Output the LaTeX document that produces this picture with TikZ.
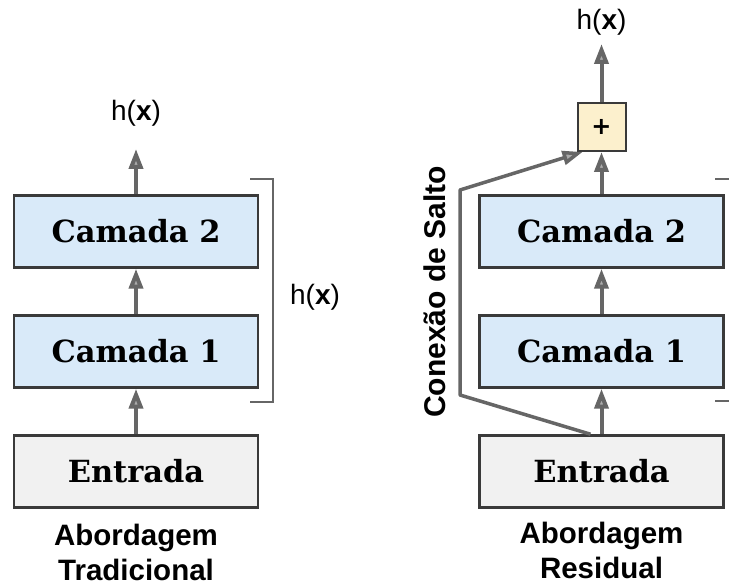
\documentclass[tikz,border=0pt]{standalone}
\usepackage{fontspec}
\setmainfont{DejaVu Serif}
\setsansfont{Liberation Sans}
\newfontfamily\plusfont{DejaVu Sans}
\usetikzlibrary{calc,arrows.meta}

\definecolor{boxline}{HTML}{3A3A3A}
\definecolor{arrowgray}{HTML}{666666}
\definecolor{layerblue}{HTML}{D9EAF9}
\definecolor{inputgray}{HTML}{F1F1F1}
\definecolor{sumyellow}{HTML}{FCF0CD}

\tikzset{
	box/.style={draw=boxline, line width=2.5pt, minimum width=244pt, minimum height=72pt, inner sep=0pt, font=\bfseries\fontsize{30.5}{34}\selectfont},
	layer/.style={box, fill=layerblue},
	inbox/.style={box, fill=inputgray},
	sumbox/.style={draw=boxline, line width=2pt, fill=sumyellow, minimum size=48pt, inner sep=0pt, font=\plusfont\bfseries\fontsize{24}{24}\selectfont},
	flow/.style={draw=arrowgray, line width=4pt, -{Triangle[length=20pt,width=14pt,fill=arrowgray!55]}},
	skip/.style={draw=arrowgray, line width=3.5pt, line join=round, -{Triangle[length=20pt,width=14pt,fill=arrowgray!55]}},
	outlabel/.style={font=\sffamily\fontsize{28}{32}\selectfont},
	caption/.style={align=center, font=\sffamily\bfseries\fontsize{29.5}{35}\selectfont}
}

\begin{document}
\begin{tikzpicture}[x=1pt, y=-1pt]

		\useasboundingbox[fill=white] (0,0) rectangle (729,585);

		\node[inbox] (entL) at (136,471.5) {Entrada};
		\node[layer] (camL1) at (136,351.5) {Camada 1};
		\node[layer] (camL2) at (136,231.5) {Camada 2};
		\coordinate (outL) at (136,149);
		\node[outlabel] (hxL) at (136,113) {h(\textbf{x})};

		\draw[flow] (entL.north) -- (camL1.south);
		\draw[flow] (camL1.north) -- (camL2.south);
		\draw[flow] (camL2.north) -- (outL);

		\draw[arrowgray, line width=2pt] (250,179) -| (273,402) -- (250,402);
		\node[outlabel] (hxB) at (315,297) {h(\textbf{x})};

		\node[caption] (capL) at (136,552) {Abordagem\\Tradicional};

		\node[inbox] (entR) at (601.5,471.5) {Entrada};
		\node[layer] (camR1) at (601.5,351.5) {Camada 1};
		\node[layer] (camR2) at (601.5,231.5) {Camada 2};
		\node[sumbox] (sum) at (601.5,127) {+};
		\coordinate (outR) at (601.5,44);
		\node[outlabel] (hxR) at (601.5,22) {h(\textbf{x})};

		\draw[flow] (entR.north) -- (camR1.south);
		\draw[flow] (camR1.north) -- (camR2.south);
		\draw[flow] (camR2.north) -- (sum.south);
		\draw[flow] (sum.north) -- (outR);

		\coordinate (skipA) at (460,395);
		\coordinate (skipB) at (460,190);
		\draw[skip] ($(entR.north)+(-11,0)$) -- (skipA) -- (skipB) -- ($(sum.south west)+(6,0)$);
		\node[rotate=90, font=\sffamily\bfseries\fontsize{30}{32}\selectfont] (skiplbl) at (435,292) {Conexão de Salto};

		\draw[arrowgray, line width=2pt] (715,179) -- (729,179);
		\draw[arrowgray, line width=2pt] (715,401) -- (729,401);

		\node[caption] (capR) at (601.5,550) {Abordagem\\Residual};

	\end{tikzpicture}
\end{document}
